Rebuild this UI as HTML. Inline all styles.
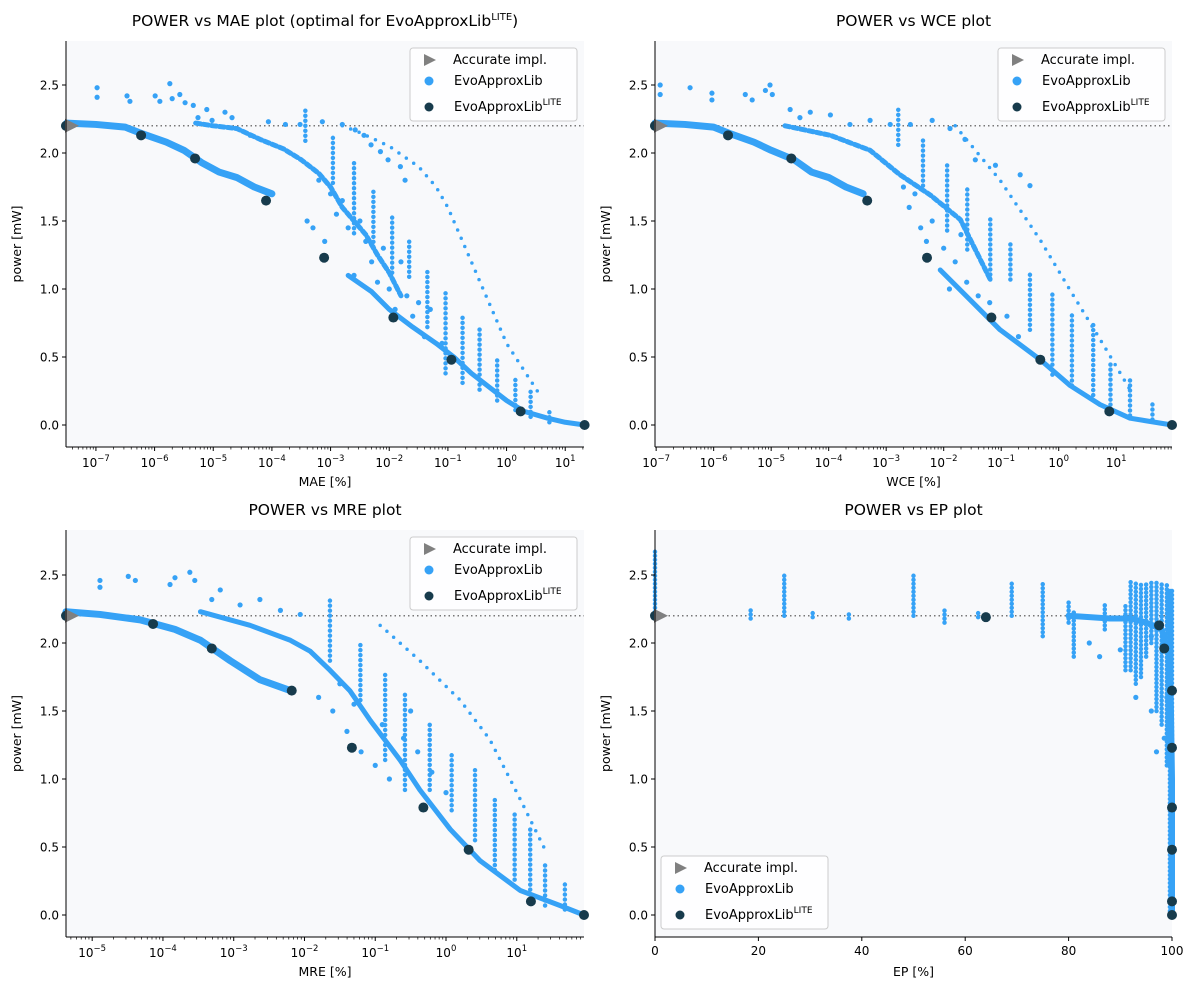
<!DOCTYPE html>
<html><head><meta charset="utf-8"><style>
body{margin:0;background:#fff;}
svg text{font-family:"DejaVu Sans","Liberation Sans",sans-serif;fill:#000;}
</style></head><body>
<svg id="fig" xmlns="http://www.w3.org/2000/svg" width="1200" height="1000" viewBox="0 0 1200 1000"></svg>
<script>
// ---------- data (x in log10 units for panels 1-3, EP % for panel 4; y = power mW) ----------
const yTicks = [0.0, 0.5, 1.0, 1.5, 2.0, 2.5];
const accuratePower = 2.2;
// Panel 1 : MAE
const maeLite = [[-7.51,2.2],[-6.23,2.13],[-5.31,1.96],[-4.10,1.65],[-3.11,1.23],[-1.93,0.79],[-0.94,0.48],[0.24,0.1],[1.33,0.0]];
const maeBandLow = [[-7.5,2.22],[-7,2.21],[-6.5,2.19],[-6.2,2.14],[-5.8,2.08],[-5.5,2.02],[-5.2,1.93],[-4.9,1.86],[-4.6,1.82],[-4.3,1.75],[-4.0,1.70]];
const maeBandMid = [[-5.3,2.22],[-5,2.2],[-4.6,2.18],[-4.2,2.1],[-3.8,2.03],[-3.5,1.95],[-3.2,1.85],[-3.0,1.75],[-2.8,1.6],[-2.6,1.5],[-2.4,1.4],[-2.2,1.25],[-2,1.12],[-1.8,0.95]];
const maeBandEdge = [[-2.7,1.1],[-2.3,0.98],[-2,0.85],[-1.6,0.72],[-1.2,0.6],[-0.9,0.5],[-0.6,0.38],[-0.3,0.28],[0,0.18],[0.3,0.1],[0.7,0.05],[1,0.02],[1.33,0.0]];
const maeBandFar = [[-2.8,2.2],[-2.5,2.15],[-2,2.05],[-1.5,1.9],[-1.2,1.75],[-1,1.6],[-0.8,1.4],[-0.6,1.2],[-0.4,1.0],[-0.2,0.8],[0,0.6],[0.3,0.4],[0.6,0.2]];
const maeStripes = [[-3.43,2.09,2.32],[-2.96,1.78,2.12],[-2.6,1.41,1.93],[-2.27,1.31,1.73],[-1.95,1.12,1.53],[-1.66,1.09,1.35],[-1.35,0.72,1.16],[-1.04,0.38,0.99],[-0.75,0.31,0.82],[-0.46,0.26,0.72],[-0.16,0.18,0.5],[0.15,0.11,0.35],[0.41,0.06,0.26],[0.73,0.02,0.12]];
const maeDots = [[-6.98,2.48],[-6.98,2.41],[-6.47,2.42],[-6.42,2.38],[-5.99,2.42],[-5.91,2.38],[-5.74,2.51],[-5.70,2.40],[-5.57,2.43],[-5.48,2.37],[-5.34,2.35],[-5.26,2.26],[-5.11,2.32],[-5.02,2.24],[-4.80,2.30],[-4.68,2.26],[-4.37,2.13],[-4.06,2.23],[-3.77,2.21],[-3.52,2.21],[-3.14,2.23],[-2.80,2.21],[-2.58,2.17],[-2.43,2.13],[-2.31,2.06],[-2.15,2.01],[-2.02,1.95],[-1.81,1.90],[-1.73,1.80],
 [-3.2,1.8],[-3.0,1.7],[-2.9,1.55],[-2.8,1.65],[-2.7,1.45],[-2.5,1.5],[-2.4,1.35],[-2.3,1.2],[-2.1,1.3],[-2.0,1.0],[-1.8,1.2],[-1.7,0.95],[-1.5,0.9],[-1.3,0.85],[-3.3,1.45],[-3.4,1.5],[-3.1,1.35],[-2.6,1.1],[-2.2,1.05],[-1.9,0.85],[-1.6,0.8],[-1.4,0.65],[-1.1,0.6]];
// Panel 2 : WCE
const wceLite = [[-7.02,2.2],[-5.75,2.13],[-4.65,1.96],[-3.33,1.65],[-2.29,1.23],[-1.17,0.79],[-0.32,0.48],[0.88,0.1],[1.97,0.0]];
const wceBandLow = [[-7.02,2.22],[-6.5,2.21],[-6,2.19],[-5.7,2.14],[-5.3,2.08],[-5,2.02],[-4.6,1.95],[-4.3,1.86],[-4,1.82],[-3.7,1.75],[-3.4,1.7]];
const wceBandMid = [[-4.76,2.2],[-3.97,2.13],[-3.28,2.02],[-2.76,1.84],[-2.23,1.69],[-1.71,1.51],[-1.19,1.07]];
const wceBandEdge = [[-2.06,1.14],[-1.54,0.92],[-1.02,0.7],[-0.32,0.48],[0.2,0.29],[0.72,0.15],[1.24,0.05],[1.97,0.0]];
const wceBandFar = [[-1.8,2.2],[-1.02,1.8],[-0.32,1.36],[0.2,0.99],[0.72,0.63],[1.24,0.26]];
const wceStripes = [[-2.79,2.06,2.32],[-2.36,1.76,2.10],[-1.94,1.43,1.93],[-1.59,1.29,1.76],[-1.19,1.07,1.54],[-0.84,1.07,1.36],[-0.5,0.70,1.14],[-0.11,0.37,0.99],[0.23,0.29,0.81],[0.6,0.22,0.74],[0.9,0.15,0.48],[1.24,0.07,0.33],[1.63,0.04,0.18]];
const wceDots = [[-6.93,2.5],[-6.93,2.43],[-6.41,2.48],[-6.03,2.44],[-6.03,2.39],[-5.45,2.43],[-5.33,2.39],[-5.10,2.46],[-5.02,2.5],[-4.98,2.43],[-4.67,2.32],[-4.50,2.26],[-4.32,2.30],[-3.97,2.28],[-3.63,2.21],[-3.28,2.24],[-2.93,2.21],[-2.58,2.21],[-2.20,2.24],[-1.89,2.18],[-1.63,2.10],[-1.45,1.95],[-1.10,1.91],[-0.67,1.84],[-0.50,1.76],
 [-2.6,1.6],[-2.4,1.45],[-2.2,1.5],[-2.0,1.3],[-1.8,1.2],[-1.6,1.05],[-1.4,0.95],[-1.2,0.9],[-0.9,0.8],[-0.7,0.65],[-2.5,1.7],[-1.9,1.0],[-2.7,1.75],[-2.3,1.35],[-1.7,1.4]];
// Panel 3 : MRE
const mreLite = [[-5.37,2.2],[-4.14,2.14],[-3.31,1.96],[-2.18,1.65],[-1.33,1.23],[-0.32,0.79],[0.32,0.48],[1.2,0.1],[1.95,0.0]];
const mreBandLow = [[-5.37,2.23],[-4.89,2.21],[-4.32,2.17],[-3.83,2.10],[-3.47,2.02],[-3.05,1.87],[-2.63,1.73],[-2.2,1.65]];
const mreBandMid = [[-3.47,2.23],[-2.77,2.13],[-2.2,2.02],[-1.92,1.94],[-1.64,1.80],[-1.36,1.65],[-1.07,1.43],[-0.65,1.14],[-0.37,0.92],[0.06,0.63],[0.48,0.40],[1.05,0.18],[1.61,0.07],[1.95,0.0]];
const mreBandFar = [[-0.93,2.13],[-0.37,1.87],[0.2,1.58],[0.62,1.29],[1.05,0.85],[1.40,0.48]];
const mreStripes = [[-1.64,1.87,2.32],[-1.21,1.58,2.02],[-0.86,1.14,1.80],[-0.58,0.92,1.65],[-0.23,0.92,1.43],[0.08,0.77,1.18],[0.41,0.55,1.07],[0.69,0.33,0.85],[0.97,0.26,0.77],[1.19,0.15,0.63],[1.40,0.07,0.40],[1.68,0.04,0.26]];
const mreDots = [[-4.89,2.46],[-4.89,2.41],[-4.49,2.49],[-4.39,2.46],[-3.9,2.43],[-3.83,2.48],[-3.62,2.52],[-3.55,2.46],[-3.31,2.32],[-3.19,2.39],[-2.91,2.28],[-2.63,2.32],[-2.34,2.24],[-2.06,2.21],
 [-1.8,1.6],[-1.6,1.5],[-1.4,1.35],[-1.2,1.2],[-1.0,1.1],[-0.8,1.0],[-0.6,1.3],[-0.4,1.2],[-1.5,1.7],[-0.2,1.05],[0.0,0.9],[-1.3,1.55],[-0.9,1.4],[-0.5,1.5]];
// Panel 4 : EP
const epLite = [[0,2.2],[64,2.19],[97.5,2.13],[98.5,1.96],[100,1.65],[100,1.23],[100,0.79],[100,0.48],[100,0.1],[100,0.0]];
const epStripes = [[0,2.2,2.7],[18.5,2.18,2.25],[25,2.2,2.5],[30.5,2.19,2.22],[37.5,2.18,2.22],[50,2.2,2.5],[56,2.15,2.25],[62.5,2.19,2.22],[69,2.2,2.45],[75,2.05,2.45],[80,2.15,2.3],[81,1.9,2.25],[87,2.1,2.3],[91,1.8,2.3],[92,1.8,2.45],[93,1.7,2.45],[94,1.75,2.45],[95,1.9,2.45],[96,2.0,2.45],[97,1.5,2.45],[98,1.4,2.45],[99,1.1,2.45],[99.6,0.0,2.4],[100,0.0,2.4]];
const epBand = [[80,2.2],[88,2.18],[92,2.18],[95,2.15],[98,2.1],[99.5,1.9],[99.8,1.5],[100,1.0],[100,0.0]];
const epDots = [[84,2.0],[86,1.9],[90,1.95],[93,1.6],[96,1.5],[97,1.2],[98.5,1.3],[99,1.6],[96,2.05]];
const xTicksLog1 = [-7,-6,-5,-4,-3,-2,-1,0,1];
const xTicksLog3 = [-5,-4,-3,-2,-1,0,1];
const xTicksEP = [0,20,40,60,80,100];
</script>
<script>
const NS='http://www.w3.org/2000/svg';
const svg=document.getElementById('fig');
const BLUE='#36a2f6', DARK='#173b4c';
function mk(tag,attrs,parent){const e=document.createElementNS(NS,tag);for(const k in attrs)e.setAttribute(k,attrs[k]);(parent||svg).appendChild(e);return e;}

function panel(p){
  const g=mk('g',{});
  
  
  const X=v=>p.L+(v-p.xmin)/(p.xmax-p.xmin)*(p.R-p.L);
  const Y=v=>p.y0-136*v;
  const bg=mk('rect',{x:p.L,y:p.T,width:p.R-p.L,height:p.B-p.T,fill:'#f8f9fb'},g);
  
  
  const cid='c'+p.name;
  const cp=mk('clipPath',{id:cid},g);mk('rect',{x:p.L-6,y:p.T,width:p.R-p.L+12,height:p.B-p.T},cp);
  const dg=mk('g',{'clip-path':'url(#'+cid+')'},g);
  const al=mk('line',{x1:p.L,x2:p.R,y1:Y(accuratePower),y2:Y(accuratePower),stroke:'#777','stroke-width':1.5,'stroke-dasharray':'1.5 3'},dg);
  
  
  (p.bands||[]).forEach(b=>{
    const pl=mk('polyline',{points:b.d.map(q=>X(q[0])+','+Y(q[1])).join(' '),fill:'none',stroke:BLUE,'stroke-width':b.w,'stroke-linecap':'round','stroke-linejoin':'round','stroke-dasharray':b.dash||'none'},dg);
    
    
  });
  (p.stripes||[]).forEach(s=>{
    const ln=mk('line',{x1:X(s[0]),x2:X(s[0]),y1:Y(s[1]),y2:Y(s[2]),stroke:BLUE,'stroke-width':4.5,'stroke-linecap':'round','stroke-dasharray':p.stripeDash||'0 5'},dg);
    
    
  });
  (p.dots||[]).forEach(d=>{
    const c=mk('circle',{cx:X(d[0]),cy:Y(d[1]),r:2.6,fill:BLUE},dg);
    
    
  });
  p.lite.forEach(d=>{
    const c=mk('circle',{cx:X(d[0]),cy:Y(d[1]),r:5,fill:DARK},g);
    
    
  });
  const ty=Y(accuratePower);
  const tri=mk('polygon',{points:(p.L-1)+','+(ty-7)+' '+(p.L+13)+','+ty+' '+(p.L-1)+','+(ty+7),fill:'#808080'},g);
  
  
  mk('line',{x1:p.L,x2:p.L,y1:p.T,y2:p.B,stroke:'#000','stroke-width':1},g);
  mk('line',{x1:p.L,x2:p.R,y1:p.B,y2:p.B,stroke:'#000','stroke-width':1},g);
  yTicks.forEach(t=>{
    mk('line',{x1:p.L-4,x2:p.L,y1:Y(t),y2:Y(t),stroke:'#000'},g);
    const tx=mk('text',{x:p.L-7,y:Y(t)+4.5,'text-anchor':'end','font-size':12},g);tx.textContent=t.toFixed(1);
    
    
  });
  if(p.log){
    for(let d=Math.floor(p.xmin);d<=Math.ceil(p.xmax);d++){
      for(let k=2;k<10;k++){const v=d+Math.log10(k);if(v>p.xmin&&v<p.xmax)mk('line',{x1:X(v),x2:X(v),y1:p.B,y2:p.B+2.5,stroke:'#000','stroke-width':0.7},g);}
    }
    p.xt.forEach(t=>{
      mk('line',{x1:X(t),x2:X(t),y1:p.B,y2:p.B+4,stroke:'#000'},g);
      const tx=mk('text',{x:X(t),y:p.B+20,'text-anchor':'middle','font-size':12},g);
      tx.innerHTML='10<tspan dy="-6" font-size="8.5">'+(t<0?'\u2212'+(-t):t)+'</tspan>';
      
      
    });
  } else {
    p.xt.forEach(t=>{
      mk('line',{x1:X(t),x2:X(t),y1:p.B,y2:p.B+4,stroke:'#000'},g);
      const tx=mk('text',{x:X(t),y:p.B+18,'text-anchor':'middle','font-size':12},g);tx.textContent=t;
      
      
    });
  }
  const cx=(p.L+p.R)/2;
  const ti=mk('text',{x:cx,y:p.T-15,'text-anchor':'middle','font-size':15.5},g);ti.innerHTML=p.title;
  
  
  const xl=mk('text',{x:cx,y:p.B+39,'text-anchor':'middle','font-size':12.5},g);xl.textContent=p.xlabel;
  
  
  const yl=mk('text',{x:p.L-45,y:(p.T+p.B)/2,'text-anchor':'middle','font-size':12.5,transform:'rotate(-90 '+(p.L-45)+' '+((p.T+p.B)/2)+')'},g);yl.textContent='power [mW]';
  
  
  const lx=p.lgx, ly=p.lgy;
  const lg=mk('g',{},g);
  
  
  mk('rect',{x:lx,y:ly,width:167,height:73,rx:3,fill:'#fff','fill-opacity':0.85,stroke:'#ccc'},lg);
  mk('polygon',{points:(lx+14)+','+(ly+6)+' '+(lx+26)+','+(ly+12)+' '+(lx+14)+','+(ly+18),fill:'#808080'},lg);
  mk('circle',{cx:lx+19,cy:ly+33,r:4.5,fill:BLUE},lg);
  mk('circle',{cx:lx+19,cy:ly+59,r:4.5,fill:DARK},lg);
  const e1=mk('text',{x:lx+43,y:ly+16,'font-size':13},lg);e1.textContent='Accurate impl.';
  
  
  const e2=mk('text',{x:lx+44,y:ly+37,'font-size':13},lg);e2.textContent='EvoApproxLib';
  
  
  const e3=mk('text',{x:lx+44,y:ly+63,'font-size':13},lg);e3.innerHTML='EvoApproxLib<tspan dy="-6" font-size="9">LITE</tspan>';
  
  
}

panel({name:'mae-panel',L:66,R:584,T:41,B:447,y0:425,xmin:-7.51,xmax:1.32,log:true,xt:xTicksLog1,
  title:'POWER vs MAE plot (optimal for EvoApproxLib<tspan dy="-6" font-size="10">LITE</tspan><tspan dy="6">)</tspan>',xlabel:'MAE [%]',
  lite:maeLite,stripes:maeStripes,dots:maeDots,lgx:410,lgy:48,
  bands:[{d:maeBandLow,w:7},{d:maeBandMid,w:5,dash:'5 3'},{d:maeBandEdge,w:5},{d:maeBandFar,w:3.5,dash:'0 9'}]});
panel({name:'wce-panel',L:655,R:1172,T:41,B:447,y0:425,xmin:-7.02,xmax:1.97,log:true,xt:xTicksLog1,
  title:'POWER vs WCE plot',xlabel:'WCE [%]',
  lite:wceLite,stripes:wceStripes,dots:wceDots,lgx:998,lgy:48,
  bands:[{d:wceBandLow,w:7},{d:wceBandMid,w:5,dash:'5 3'},{d:wceBandEdge,w:5},{d:wceBandFar,w:3.5,dash:'0 9'}]});
panel({name:'mre-panel',L:66,R:584,T:530,B:937,y0:915,xmin:-5.37,xmax:1.95,log:true,xt:xTicksLog3,
  title:'POWER vs MRE plot',xlabel:'MRE [%]',
  lite:mreLite,stripes:mreStripes,dots:mreDots,lgx:410,lgy:537,
  bands:[{d:mreBandLow,w:7},{d:mreBandMid,w:5},{d:mreBandFar,w:3.5,dash:'0 9'}]});
panel({name:'ep-panel',L:655,R:1172,T:530,B:937,y0:915,xmin:0,xmax:100,log:false,xt:xTicksEP,stripeDash:'0 4',
  title:'POWER vs EP plot',xlabel:'EP [%]',
  lite:epLite,stripes:epStripes,dots:epDots,lgx:661,lgy:856,
  bands:[{d:epBand,w:6}]});
</script>
</body></html>
